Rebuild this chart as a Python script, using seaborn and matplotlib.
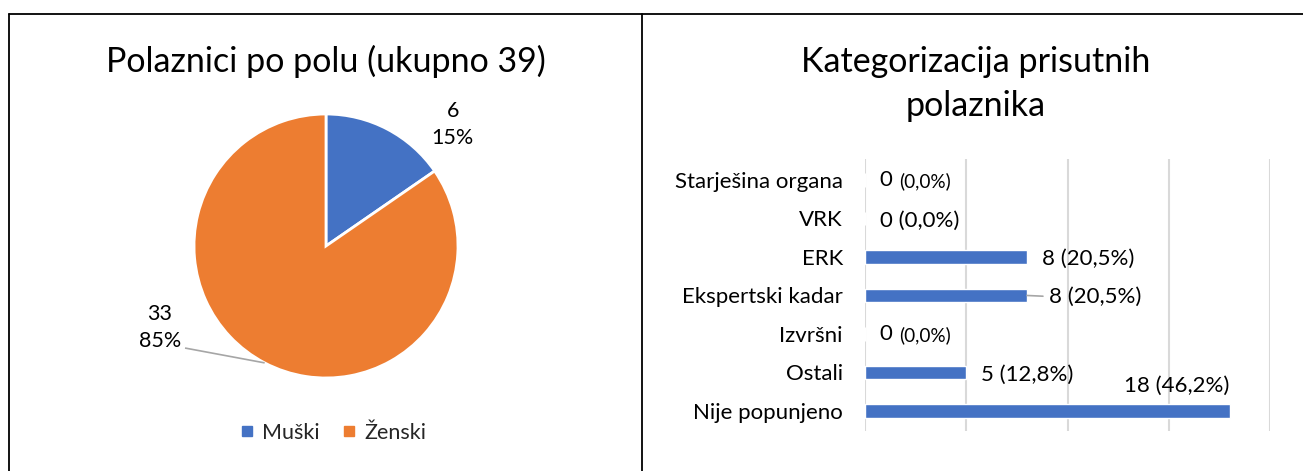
import matplotlib
matplotlib.use("Agg")
import matplotlib.pyplot as plt
from matplotlib.lines import Line2D
import numpy as np
import pandas as pd
import seaborn as sns

# ---- data ----
gender_labels = ["Muški", "Ženski"]
gender_counts = [6, 33]
total_attendees = 39

categories = ["Starješina organa", "VRK", "ERK", "Ekspertski kadar",
              "Izvršni", "Ostali", "Nije popunjeno"]
counts = [0, 0, 8, 8, 0, 5, 18]
shares = ["0,0%", "0,0%", "20,5%", "20,5%", "0,0%", "12,8%", "46,2%"]

BLUE = "#4472C4"
ORANGE = "#ED7D31"
GRID = "#D9D9D9"
LEADER = "#A6A6A6"

TITLE_FS = 24.5
PIE_FS = 15.5
BAR_FS = 16
SMALL_FS = 13.6

sns.set_theme(style="white")
plt.rcParams["font.family"] = ["Lato", "DejaVu Sans"]

W, H = 1303, 471
fig = plt.figure(figsize=(W / 100, H / 100), dpi=100)


def px_box(x, y, w, h):
    """Axes rectangle from pixel position measured from the top-left."""
    return [x / W, 1 - (y + h) / H, w / W, h / H]


# ---- panel frames ----
for xs, ys in [((9, 1303), (14, 14)), ((9, 9), (14, 471)), ((642, 642), (14, 471))]:
    fig.add_artist(Line2D([x / W for x in xs], [1 - y / H for y in ys],
                          color="black", lw=1.3))

# ---- left panel: pie ----
fig.text(326 / W, 1 - 61 / H, f"Polaznici po polu (ukupno {total_attendees})",
         ha="center", va="center", fontsize=TITLE_FS, color="black")

ax_pie = fig.add_axes(px_box(194, 114, 264, 264))
wedges, _ = ax_pie.pie(gender_counts, colors=[BLUE, ORANGE], startangle=90,
                       counterclock=False,
                       wedgeprops=dict(edgecolor="white", linewidth=2))
ax_pie.set_xlim(-1, 1)
ax_pie.set_ylim(-1, 1)
ax_pie.set_aspect("equal")

pct = [round(100 * v / sum(gender_counts)) for v in gender_counts]
label_pos = [(0.96, 0.92), (-1.26, -0.62)]
for v, p, (lx, ly) in zip(gender_counts, pct, label_pos):
    ax_pie.text(lx, ly, f"{v}\n{p}%", ha="center", va="center", fontsize=PIE_FS,
                linespacing=1.45, color="black", clip_on=False)

# leader line from the larger slice's label to the middle of its arc
start = 90 - gender_counts[0] / sum(gender_counts) * 360
mid = np.deg2rad(start - gender_counts[1] / sum(gender_counts) * 360 / 2)
ax_pie.plot([-1.068, np.cos(mid)], [-0.773, np.sin(mid)], color=LEADER,
            lw=1.2, clip_on=False, solid_capstyle="butt")

handles = [Line2D([], [], marker="s", ls="", color=c, markersize=6.5)
           for c in (BLUE, ORANGE)]
fig.legend(handles, gender_labels, loc="center", ncol=2, frameon=False,
           bbox_to_anchor=(334 / W, 1 - 433 / H), fontsize=PIE_FS,
           handlelength=0.5, handletextpad=0.45, columnspacing=1.1)

# ---- right panel: horizontal bars ----
fig.text(976 / W, 1 - 84 / H, "Kategorizacija prisutnih\npolaznika",
         ha="center", va="center", fontsize=TITLE_FS, linespacing=1.45,
         color="black")

df = pd.DataFrame({"kategorija": categories, "broj": counts})
ax = fig.add_axes(px_box(865, 159, 405, 272))
sns.barplot(data=df, y="kategorija", x="broj", orient="h", color=BLUE,
            saturation=1, width=0.34, ax=ax)
ax.set_xlim(0, 20)
ax.set_ylim(6.52, -0.545)
ax.set_xticks([0, 5, 10, 15, 20])
ax.set_xticklabels([])
ax.grid(axis="x", color=GRID, lw=1.5)
ax.grid(axis="y", visible=False)
ax.set_axisbelow(True)
for s in ax.spines.values():
    s.set_visible(False)
ax.set_xlabel("")
ax.set_ylabel("")
ax.tick_params(axis="both", length=0)
ax.tick_params(axis="y", labelsize=BAR_FS, pad=16, labelcolor="black")

compact = {"Starješina organa", "Izvršni"}
for i, (cat, v, sh) in enumerate(zip(categories, counts, shares)):
    if cat in compact:
        t = ax.annotate(f"{v} ", xy=(v, i), xytext=(15, 0),
                        textcoords="offset pixels", ha="left", va="center",
                        fontsize=BAR_FS, color="black")
        ax.annotate(f"({sh})", xy=(1, 0), xycoords=t, ha="left",
                    va="bottom", fontsize=SMALL_FS, color="black")
    elif cat == "Nije popunjeno":
        ax.annotate(f"{v} ({sh})", xy=(v, i), xytext=(0, 25),
                    textcoords="offset pixels", ha="right", va="center",
                    fontsize=BAR_FS, color="black")
    elif cat == "Ekspertski kadar":
        ax.annotate(f"{v} ({sh})", xy=(v, i), xytext=(22, -1),
                    textcoords="offset pixels", ha="left", va="center",
                    fontsize=BAR_FS, color="black",
                    arrowprops=dict(arrowstyle="-", color=LEADER, lw=1.2,
                                    relpos=(0, 0.5), shrinkA=2, shrinkB=0))
    else:
        ax.annotate(f"{v} ({sh})", xy=(v, i), xytext=(15, -2),
                    textcoords="offset pixels", ha="left", va="center",
                    fontsize=BAR_FS, color="black")

fig.savefig("out.png", dpi=100)
